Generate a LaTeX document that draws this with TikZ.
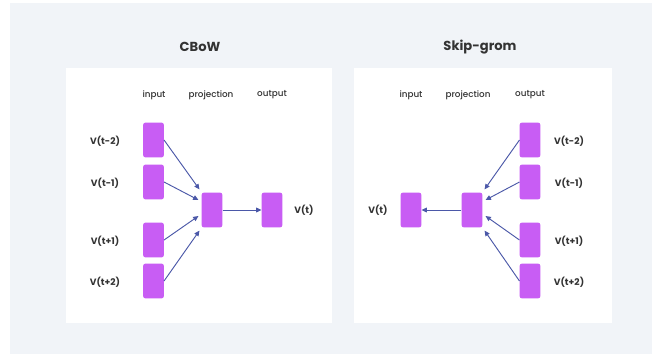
\documentclass[tikz,border=0pt]{standalone}
\usepackage{fontspec}
\setmainfont{Poppins}
\IfFontExistsTF{Poppins Medium}{\newfontfamily\medfont{Poppins Medium}}{\newfontfamily\medfont{Poppins}[FakeBold=0.6]}
\usetikzlibrary{arrows.meta,calc}
\definecolor{bggray}{HTML}{F1F4F8}
\definecolor{boxviolet}{HTML}{C85DF4}
\definecolor{arrowblue}{HTML}{4B58A8}
\definecolor{txt}{HTML}{333333}
\tikzset{
  vecbox/.style={fill=boxviolet,draw=none,rounded corners=1.5pt,minimum width=15.4pt,minimum height=26pt,inner sep=0pt},
  conn/.style={draw=arrowblue,line width=0.7pt,-{Triangle[length=4pt,width=3.6pt]}},
  titletxt/.style={font=\bfseries\fontsize{9.8}{12}\selectfont,text=txt},
  headtxt/.style={font=\medfont\fontsize{6.6}{8}\selectfont,text=txt},
  labtxt/.style={font=\bfseries\fontsize{6.9}{8}\selectfont,text=txt},
}
\begin{document}
\begin{tikzpicture}[x=0.75pt,y=-0.75pt]
\useasboundingbox (0,0) rectangle (652,354);
\fill[white] (0,0) rectangle (652,354);
\fill[bggray] (10,3) rectangle (652,354);
\fill[white] (66,68) rectangle (332,323);
\fill[white] (354,68) rectangle (612,323);

% ---------- CBoW ----------
\node[titletxt] (t1) at (200,47) {CBoW};
\node[headtxt] (h1a) at (154,95) {input};
\node[headtxt] (h1b) at (211,95) {projection};
\node[headtxt] (h1c) at (272,95) {output};

\node[vecbox] (a1) at (153.5,140) {};
\node[vecbox] (a2) at (153.5,182) {};
\node[vecbox] (a3) at (153.5,240) {};
\node[vecbox] (a4) at (153.5,281) {};
\node[vecbox] (ap) at (212,210) {};
\node[vecbox] (ao) at (272,210) {};

\node[labtxt] (la1) at (105,141) {V(t-2)};
\node[labtxt] (la2) at (105,183) {V(t-1)};
\node[labtxt] (la3) at (105,241) {V(t+1)};
\node[labtxt] (la4) at (105,282) {V(t+2)};
\node[labtxt] (lao) at (304,210) {V(t)};

\draw[conn] (a1.east) -- ($(ap.north west)+(-2,-3)$);
\draw[conn] (a2.east) -- ($(ap.west)+(-3,-10)$);
\draw[conn] (a3.east) -- ($(ap.west)+(-3,6)$);
\draw[conn] (a4.east) -- ($(ap.south west)+(-2,3)$);
\draw[conn] (ap.east) -- (ao.west);

% ---------- Skip-gram ----------
\node[titletxt] (t2) at (480,47) {Skip-grom};
\node[headtxt] (h2a) at (411,95) {input};
\node[headtxt] (h2b) at (468,95) {projection};
\node[headtxt] (h2c) at (530,95) {output};

\node[vecbox] (b1) at (530,140) {};
\node[vecbox] (b2) at (530,182) {};
\node[vecbox] (b3) at (530,240) {};
\node[vecbox] (b4) at (530,281) {};
\node[vecbox] (bp) at (472,210) {};
\node[vecbox] (bi) at (411,210) {};

\node[labtxt] (lb1) at (569,141) {V(t-2)};
\node[labtxt] (lb2) at (569,183) {V(t-1)};
\node[labtxt] (lb3) at (569,241) {V(t+1)};
\node[labtxt] (lb4) at (569,282) {V(t+2)};
\node[labtxt] (lbi) at (378,210) {V(t)};

\draw[conn] (b1.west) -- ($(bp.north east)+(2,-3)$);
\draw[conn] (b2.west) -- ($(bp.east)+(3,-10)$);
\draw[conn] (b3.west) -- ($(bp.east)+(3,6)$);
\draw[conn] (b4.west) -- ($(bp.south east)+(2,3)$);
\draw[conn] (bp.west) -- (bi.east);
\end{tikzpicture}
\end{document}
